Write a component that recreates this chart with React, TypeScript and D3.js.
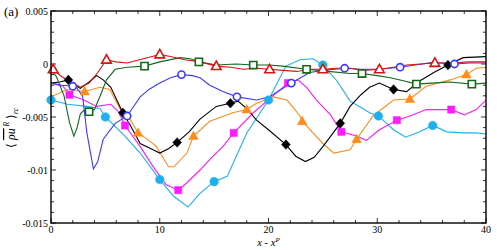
import React from 'react';
import * as d3 from 'd3';

type Pt = [number, number];

// x in (x - x^P), y in <rho u''^R>_rc
const redPts: Pt[] = [[0,-0.0003],[0.2,-0.0005],[1,-0.0012],[2,-0.0018],[2.7,-0.0022],[3.5,-0.0018],[4.3,-0.0008],[5.1,0.0004],[6,0.0002],[7,0.0001],[8.5,0.0005],[10,0.0009],[11,0.0007],[12.3,0.0004],[13.7,0.0002],[15.2,-0.0002],[16.5,-0.0003],[17.7,-0.0005],[19,-0.0004],[20.1,-0.0005],[21.3,-0.0006],[22.6,-0.0007],[23.8,-0.0005],[25,-0.0005],[26.3,-0.0004],[27.5,-0.0004],[28.8,-0.0006],[30.2,-0.0005],[31.5,-0.0003],[32.7,-0.0001],[34,0],[35.3,0.0001],[36.9,0.0001],[38.5,0.0002],[40,0.0002]];
const redMarks = [0.2, 5.1, 10, 15.2, 20.1, 25, 30.2, 35.3];

const greenPts: Pt[] = [[0,-0.0005],[0.5,-0.0012],[1.2,-0.003],[1.7,-0.0055],[2.1,-0.0068],[2.4,-0.006],[2.7,-0.0047],[3.0,-0.0044],[3.5,-0.0045],[4,-0.0043],[4.6,-0.0028],[5.1,-0.0015],[5.9,-0.0005],[7,-0.0003],[8.6,-0.0002],[10,0.0002],[11.9,0.0006],[12.8,0.0005],[13.6,0.0002],[15.2,-0.0001],[17,0],[18.6,-0.0001],[20,-0.0001],[21.3,-0.0002],[23.5,-0.0005],[25.5,-0.0007],[27.5,-0.0009],[28.6,-0.0009],[30,-0.0011],[31.2,-0.0013],[32.5,-0.0016],[33.6,-0.0019],[35,-0.0018],[36.7,-0.0017],[38.7,-0.0019],[40,-0.0018]];
const greenMarks = [3.5, 8.6, 13.6, 18.6, 23.5, 28.6, 33.6, 38.7];

const bluePts: Pt[] = [[0,-0.0018],[1,-0.002],[2,-0.0021],[2.4,-0.0023],[2.9,-0.003],[3.3,-0.0065],[3.9,-0.0099],[4.3,-0.0092],[4.8,-0.0071],[5.9,-0.0056],[7,-0.0049],[8.2,-0.0031],[9,-0.0024],[10,-0.0018],[11,-0.0013],[12,-0.001],[13,-0.0011],[13.7,-0.0013],[14.6,-0.002],[15.8,-0.0026],[17.1,-0.0031],[18.9,-0.0034],[20.1,-0.0031],[21,-0.0025],[22.1,-0.0018],[23.8,-0.0008],[25,-0.0006],[27,-0.0004],[28.5,-0.0005],[30.2,-0.0005],[32.1,-0.0003],[33.5,-0.0001],[35.1,0.00015],[37.1,0],[38.5,0.0001],[40,0.0001]];
const blueMarks = [2, 7, 12, 17.1, 22.1, 27, 32.1, 37.1];

const blackPts: Pt[] = [[0,-0.0018],[0.8,-0.0017],[1.6,-0.0015],[2.2,-0.002],[2.7,-0.0023],[3.5,-0.0017],[4.2,-0.0011],[4.8,-0.0015],[5.5,-0.0022],[6.6,-0.0046],[7.3,-0.0058],[8.2,-0.0075],[9.2,-0.008],[10,-0.0084],[10.8,-0.008],[11.6,-0.0074],[12.7,-0.0064],[13.7,-0.0052],[15.2,-0.004],[16.5,-0.0037],[17.2,-0.0035],[18,-0.0042],[18.9,-0.0053],[20,-0.0062],[21.6,-0.0076],[22.5,-0.0087],[23.4,-0.0092],[24.2,-0.0088],[25,-0.0078],[26.6,-0.0056],[27.5,-0.004],[28.5,-0.0029],[29.3,-0.0022],[30.2,-0.0018],[31.5,-0.0024],[32.7,-0.0026],[33.9,-0.0016],[35.2,-0.0008],[36.5,-0.0001],[37.9,0.0006],[40,0.0007]];
const blackMarks = [1.6, 6.6, 11.6, 16.5, 21.6, 26.6, 31.5, 36.5];

const orangePts: Pt[] = [[0,-0.0031],[1.5,-0.0024],[3.1,-0.0026],[4.5,-0.0022],[5.4,-0.0024],[6.4,-0.0043],[7.1,-0.0049],[8,-0.0065],[9,-0.0072],[9.7,-0.0078],[10.8,-0.0097],[11.3,-0.0097],[12.5,-0.0084],[13.1,-0.0068],[14.6,-0.0054],[16.7,-0.0046],[18,-0.0043],[18.9,-0.0037],[20.4,-0.0031],[21.7,-0.0034],[22.9,-0.0049],[23.1,-0.0054],[24,-0.0064],[25,-0.0075],[26,-0.0084],[27.5,-0.0081],[28.1,-0.0071],[29.6,-0.0049],[31.5,-0.0034],[33,-0.0033],[34.5,-0.0021],[36.7,-0.0015],[38.2,-0.001],[39.1,-0.0004],[40,-0.0003]];
const orangeMarks = [3.1, 8, 13.1, 18, 23.1, 28.1, 33, 38.2];

const magentaPts: Pt[] = [[0,-0.0018],[1.1,-0.0021],[1.7,-0.0029],[3,-0.0034],[4.2,-0.004],[5.5,-0.0038],[6.2,-0.0045],[6.8,-0.0058],[8.2,-0.0078],[9.4,-0.0097],[10.6,-0.0114],[11.7,-0.0119],[12.5,-0.0112],[13.7,-0.01],[14.6,-0.009],[15.8,-0.0078],[16.8,-0.0065],[18.6,-0.0046],[20.3,-0.0031],[21.8,-0.0018],[22.7,-0.0015],[23.5,-0.0022],[24.4,-0.0034],[25.7,-0.0048],[26.7,-0.0064],[28.1,-0.0068],[29,-0.0072],[30.2,-0.0062],[31.8,-0.0053],[33,-0.0049],[34.5,-0.0043],[36.8,-0.0043],[38,-0.0048],[39.1,-0.0043],[40,-0.0034]];
const magentaMarks = [1.7, 6.8, 11.7, 16.8, 21.8, 26.7, 31.8, 36.8];

const skyPts: Pt[] = [[0,-0.0034],[1.5,-0.0038],[3.3,-0.004],[4.5,-0.0042],[5,-0.005],[6.8,-0.0068],[8.2,-0.0084],[10,-0.0109],[11.3,-0.0125],[12.6,-0.0135],[13.7,-0.0122],[15,-0.0111],[16.2,-0.0106],[18,-0.0065],[20,-0.0034],[21.6,-0.0002],[22.9,0.0004],[24.1,0.0005],[25,-0.0001],[26.3,-0.0016],[27.5,-0.0035],[28.5,-0.0041],[29.3,-0.0046],[30.1,-0.0049],[31.5,-0.0062],[32.6,-0.0069],[33.9,-0.0064],[35.1,-0.0058],[36.4,-0.0064],[37.9,-0.0065],[39.1,-0.0065],[40,-0.0066]];
const skyMarks = [0, 5, 10, 15, 20, 25, 30.1, 35.1];

const xTicks = [0, 10, 20, 30, 40];
const yTicks = [0.005, 0, -0.005, -0.01, -0.015];
const yTickLabels = ['0.005', '0', '-0.005', '-0.01', '-0.015'];

type Shape = 'triUp' | 'square' | 'circle' | 'diamond';
const series: { pts: Pt[]; marks: number[]; color: string; shape: Shape; open: boolean }[] = [
  { pts: skyPts, marks: skyMarks, color: '#1eb0ee', shape: 'circle', open: false },
  { pts: magentaPts, marks: magentaMarks, color: '#ff1aff', shape: 'square', open: false },
  { pts: orangePts, marks: orangeMarks, color: '#ff8c1a', shape: 'triUp', open: false },
  { pts: blackPts, marks: blackMarks, color: '#000000', shape: 'diamond', open: false },
  { pts: bluePts, marks: blueMarks, color: '#3b3bff', shape: 'circle', open: true },
  { pts: greenPts, marks: greenMarks, color: '#12691a', shape: 'square', open: true },
  { pts: redPts, marks: redMarks, color: '#dd1111', shape: 'triUp', open: true },
];

const W = 497, H = 250;
const margin = { top: 11, right: 11, bottom: 27, left: 51 };

function markerPath(shape: Shape): string {
  switch (shape) {
    case 'triUp': return 'M0,-5L4.8,3.4L-4.8,3.4Z';
    case 'square': return 'M-3.6,-3.6H3.6V3.6H-3.6Z';
    case 'diamond': return 'M0,-4.8L4.4,0L0,4.8L-4.4,0Z';
    default: return '';
  }
}

export default function App() {
  const x = d3.scaleLinear().domain([0, 40]).range([margin.left, W - margin.right]);
  const y = d3.scaleLinear().domain([-0.015, 0.005]).range([H - margin.bottom, margin.top]);
  const line = d3.line<Pt>().x(d => x(d[0])).y(d => y(d[1]));
  const x0 = x(0), x1 = x(40), y0 = y(-0.015), y1 = y(0.005);
  const xMinor = d3.range(0, 40.01, 2);
  const yMinor = d3.range(-15, 5.01, 1).map(v => v / 1000);
  const font = '"Liberation Serif", "Times New Roman", serif';

  return (
    <div style={{ position: 'absolute', left: 0, top: 0 }}>
      <svg width={W} height={H} style={{ display: 'block', fontFamily: font }}>
        <rect width={W} height={H} fill="#ffffff" />
        <defs>
          <clipPath id="plot">
            <rect x={x0} y={y1} width={x1 - x0} height={y0 - y1} />
          </clipPath>
        </defs>
        {/* ticks on all four sides, pointing inward */}
        <g stroke="#000" strokeWidth={0.8}>
          {xMinor.map(v => {
            const len = v % 10 === 0 ? 5 : 3;
            return (
              <g key={'xt' + v}>
                <line x1={x(v)} x2={x(v)} y1={y0} y2={y0 - len} />
                <line x1={x(v)} x2={x(v)} y1={y1} y2={y1 + len} />
              </g>
            );
          })}
          {yMinor.map((v, i) => {
            const len = i % 5 === 0 ? 5 : 3;
            return (
              <g key={'yt' + i}>
                <line x1={x0} x2={x0 + len} y1={y(v)} y2={y(v)} />
                <line x1={x1} x2={x1 - len} y1={y(v)} y2={y(v)} />
              </g>
            );
          })}
        </g>
        <g clipPath="url(#plot)">
          {series.map((s, i) => (
            <path key={'l' + i} d={line(s.pts) || ''} fill="none" stroke={s.color} strokeWidth={1.1} />
          ))}
        </g>
        {series.map((s, i) => (
          <g key={'m' + i}>
            {s.marks.map(mx => {
              const p = s.pts.find(d => Math.abs(d[0] - mx) < 1e-9);
              if (!p) return null;
              const cx = x(p[0]), cy = y(p[1]);
              const fill = s.open ? '#ffffff' : s.color;
              if (s.shape === 'circle') {
                return <circle key={mx} cx={cx} cy={cy} r={s.open ? 3.6 : 4.3} fill={fill} stroke={s.color} strokeWidth={s.open ? 1.6 : 0.5} />;
              }
              return (
                <path key={mx} transform={`translate(${cx},${cy})`} d={markerPath(s.shape)}
                  fill={fill} stroke={s.color} strokeWidth={s.open ? 1.6 : 0.5} />
              );
            })}
          </g>
        ))}
        <rect x={x0} y={y1} width={x1 - x0} height={y0 - y1} fill="none" stroke="#000" strokeWidth={1.4} />
        <g fontSize={10} fill="#000">
          {xTicks.map(v => (
            <text key={'xl' + v} x={x(v)} y={y0 + 10} textAnchor="middle">{v}</text>
          ))}
          {yTicks.map((v, i) => (
            <text key={'yl' + i} x={x0 - 3} y={y(v) + 3.5} textAnchor="end">{yTickLabels[i]}</text>
          ))}
        </g>
        <text x={4} y={16} fontSize={13} fill="#000">(a)</text>
        <text x={(x0 + x1) / 2} y={246} textAnchor="middle" fontSize={10.5} fontStyle="italic" fill="#000">
          x - x<tspan dy={-4} fontSize={7}>P</tspan>
        </text>
        <g transform={`translate(15,128) rotate(-90)`} fontSize={12} fill="#000">
          <text textAnchor="middle">
            ⟨ <tspan fontStyle="italic" textDecoration="overline">ρu</tspan>
            <tspan dy={-6} fontSize={7.5} fontStyle="italic"> R</tspan>
            <tspan dy={6}> ⟩</tspan>
            <tspan dy={3} fontSize={7.5} fontStyle="italic">rc</tspan>
          </text>
        </g>
      </svg>
    </div>
  );
}
